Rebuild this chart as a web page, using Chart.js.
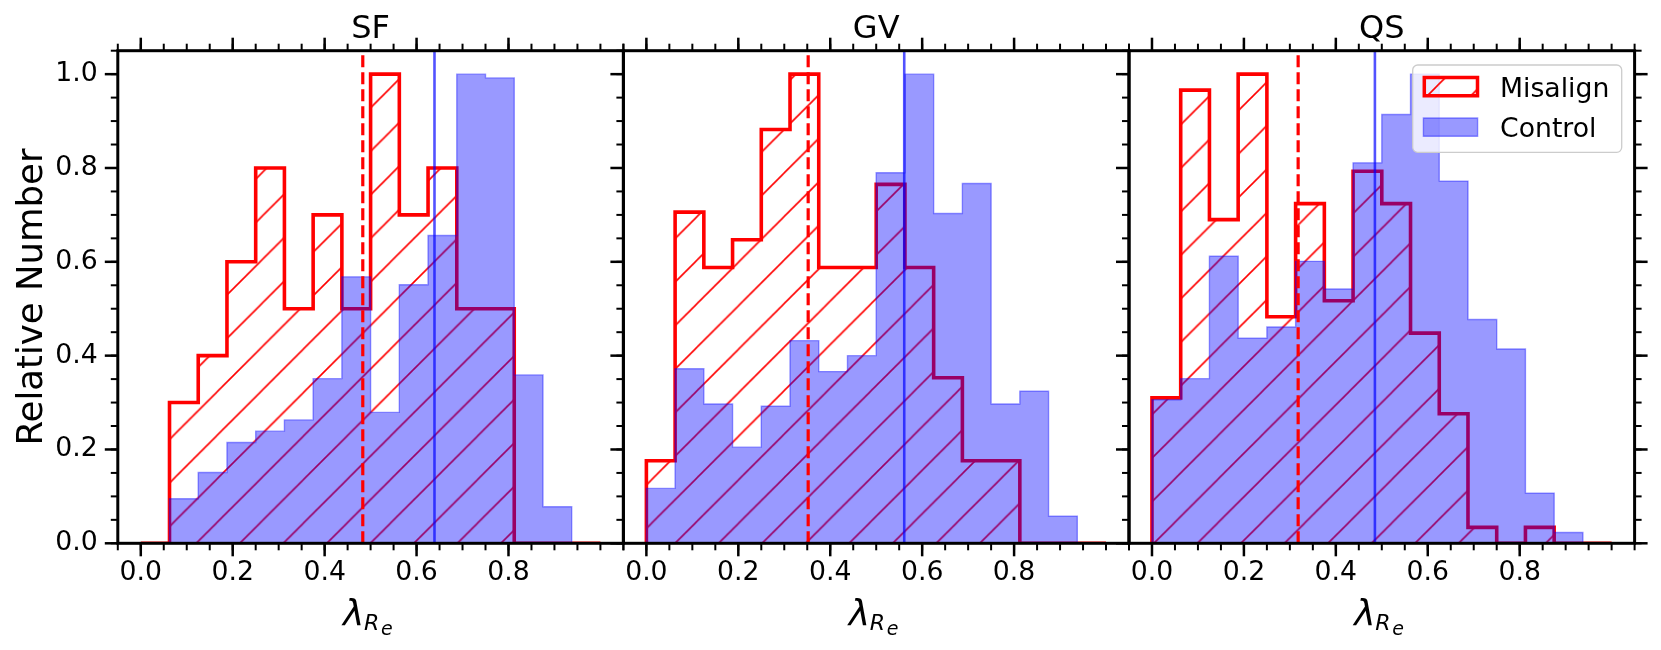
<!DOCTYPE html>
<html>
<head>
<meta charset="utf-8">
<script src="https://cdn.jsdelivr.net/npm/chart.js@4.4.1/dist/chart.umd.min.js"></script>
<style>
  html, body { margin: 0; padding: 0; background: #fff; }
  #wrap { position: relative; width: 1661px; height: 650px; }
  canvas { position: absolute; left: 0; top: 0; }
</style>
</head>
<body>
<div id="wrap">
  <canvas id="sf" width="1661" height="650"></canvas>
  <canvas id="gv" width="1661" height="650"></canvas>
  <canvas id="qs" width="1661" height="650"></canvas>
</div>
<script>
"use strict";

// 1: data
// bin edges of the lambda_Re histograms (16 bins between 0 and 1)
const binEdges = [0, 0.0625, 0.125, 0.1875, 0.25, 0.3125, 0.375, 0.4375, 0.5,
  0.5625, 0.625, 0.6875, 0.75, 0.8125, 0.875, 0.9375, 1.0];

// relative number per bin
const sfMisalign = [0, 0.3, 0.4, 0.6, 0.8, 0.5, 0.7, 0.5, 1.0, 0.7, 0.8, 0.5, 0.5, 0, 0, 0];
const sfControl = [0, 0.095, 0.151, 0.215, 0.239, 0.263, 0.351, 0.568, 0.279, 0.551, 0.656, 1.0, 0.992, 0.359, 0.078, 0];
const gvMisalign = [0.176, 0.706, 0.588, 0.647, 0.882, 1.0, 0.588, 0.588, 0.765, 0.588, 0.353, 0.176, 0.176, 0, 0, 0];
const gvControl = [0.117, 0.372, 0.297, 0.205, 0.292, 0.432, 0.366, 0.400, 0.790, 1.0, 0.703, 0.767, 0.297, 0.324, 0.058, 0];
const qsMisalign = [0.310, 0.966, 0.690, 1.0, 0.483, 0.724, 0.517, 0.793, 0.724, 0.448, 0.276, 0.034, 0, 0.034, 0, 0];
const qsControl = [0.306, 0.351, 0.612, 0.437, 0.461, 0.601, 0.542, 0.811, 0.914, 1.0, 0.772, 0.477, 0.414, 0.107, 0.023, 0];

// medians drawn as vertical lines (SF, GV, QS)
const misalignMedian = [0.483, 0.352, 0.318];
const controlMedian = [0.639, 0.561, 0.485];

const panelTitles = ["SF", "GV", "QS"];
const legendLabels = ["Misalign", "Control"];
const xTickValues = [0, 0.2, 0.4, 0.6, 0.8];
const yTickValues = [0, 0.2, 0.4, 0.6, 0.8, 1.0];

// 2: layout of the three panels (pixels)
const panelLeft = [117.8, 623.4, 1129.0];
const panelWidth = 505.6;
const plotTop = 50.7;
const plotBottom = 543.3;
const yAxisWidth = 100; // room for the y tick labels (labels are clipped to it)
const xAxisHeight = 60;
const FONT = '"DejaVu Sans", sans-serif';

// red "/" hatch, anchored to the page like matplotlib does
function makeHatch(ctx) {
  const T = 44;
  const tile = document.createElement("canvas");
  tile.width = T;
  tile.height = T;
  const g = tile.getContext("2d");
  g.strokeStyle = "red";
  g.lineWidth = 1.6;
  g.beginPath();
  g.moveTo(-2, T + 2); g.lineTo(T + 2, -2);
  g.moveTo(-2, 2); g.lineTo(2, -2);
  g.moveTo(T - 2, T + 2); g.lineTo(T + 2, T - 2);
  g.stroke();
  const p = ctx.createPattern(tile, "repeat");
  const s = 43.53 / T;
  p.setTransform(new DOMMatrix([s, 0, 0, s, 43.0, 0]));
  return p;
}

// histogram outline as step points: value i holds from edge i to edge i+1
function stepPoints(values) {
  const pts = [{ x: binEdges[0], y: 0 }];
  values.forEach((v, i) => pts.push({ x: binEdges[i], y: v }));
  pts.push({ x: binEdges[binEdges.length - 1], y: 0 });
  return pts;
}

// spines, minor/major ticks, titles, axis labels and legend
const frame = {
  id: "frame",
  afterDraw(chart, args, opts) {
    const { ctx, chartArea: a, scales: { x, y } } = chart;
    ctx.save();
    ctx.strokeStyle = "#000";
    ctx.lineCap = "butt";

    function tick(x1, y1, x2, y2, w) {
      ctx.lineWidth = w;
      ctx.beginPath();
      ctx.moveTo(x1, y1);
      ctx.lineTo(x2, y2);
      ctx.stroke();
    }
    const MAJ = 13, MIN = 7;
    // x ticks (top and bottom)
    for (let k = -1; k <= 21; k++) {
      const px = x.getPixelForValue(k * 0.05);
      tick(px, a.bottom, px, a.bottom + MIN, 2);
      tick(px, a.top, px, a.top - MIN, 2);
    }
    for (const v of xTickValues) {
      const px = x.getPixelForValue(v);
      tick(px, a.bottom, px, a.bottom + MAJ, 2.5);
      tick(px, a.top, px, a.top - MAJ, 2.5);
    }
    // y ticks (left always, right only on the last panel)
    for (let k = 0; k <= 21; k++) {
      const py = y.getPixelForValue(k * 0.05);
      tick(a.left, py, a.left - MIN, py, 2);
      if (opts.last) tick(a.right, py, a.right + MIN, py, 2);
    }
    for (const v of yTickValues) {
      const py = y.getPixelForValue(v);
      tick(a.left, py, a.left - MAJ, py, 2.5);
      if (opts.last) tick(a.right, py, a.right + MAJ, py, 2.5);
    }
    // spines
    ctx.lineWidth = 3;
    ctx.strokeRect(a.left, a.top, a.right - a.left, a.bottom - a.top);

    const cx = (a.left + a.right) / 2;
    ctx.fillStyle = "#000";
    ctx.textAlign = "center";
    ctx.textBaseline = "alphabetic";
    ctx.font = "32px " + FONT;
    ctx.fillText(opts.title, cx, 38.3);

    // x label: lambda_{R_e}
    ctx.textAlign = "left";
    ctx.font = "italic 36px " + FONT;
    ctx.fillText("λ", cx - 27.5, 625);
    ctx.font = "italic 22px " + FONT;
    ctx.fillText("R", cx - 6.5, 630);
    ctx.font = "italic 19px " + FONT;
    ctx.fillText("e", cx + 10.5, 635);

    if (opts.first) {
      ctx.save();
      ctx.translate(41.7, (a.top + a.bottom) / 2);
      ctx.rotate(-Math.PI / 2);
      ctx.textAlign = "center";
      ctx.font = "35.5px " + FONT;
      ctx.fillText("Relative Number", 0, 0);
      ctx.restore();
    }

    if (opts.last) {
      ctx.beginPath();
      ctx.roundRect(1412.7, 65, 209, 87.3, 5);
      ctx.fillStyle = "rgba(255,255,255,0.8)";
      ctx.fill();
      ctx.strokeStyle = "#cccccc";
      ctx.lineWidth = 1.3;
      ctx.stroke();

      ctx.beginPath();
      ctx.rect(1424.3, 77.6, 53.2, 18.2);
      ctx.fillStyle = opts.hatch;
      ctx.fill();
      ctx.strokeStyle = "red";
      ctx.lineWidth = 3.5;
      ctx.lineJoin = "miter";
      ctx.stroke();

      ctx.beginPath();
      ctx.rect(1423.4, 118, 54.2, 18.2);
      ctx.fillStyle = "rgba(0,0,255,0.4)";
      ctx.fill();
      ctx.strokeStyle = "rgba(0,0,255,0.4)";
      ctx.lineWidth = 1.4;
      ctx.stroke();

      ctx.fillStyle = "#000";
      ctx.textAlign = "left";
      ctx.font = "26.7px " + FONT;
      ctx.fillText(legendLabels[0], 1500, 97.3);
      ctx.fillText(legendLabels[1], 1500, 136.7);
    }
    ctx.restore();
  }
};

// 3: one chart per panel
function makePanel(i, canvasId, misalign, control) {
  const canvas = document.getElementById(canvasId);
  const hatch = makeHatch(canvas.getContext("2d"));
  const tickFont = { family: FONT, size: 26.7 };
  return new Chart(canvas, {
    type: "line",
    data: {
      datasets: [
        {
          label: "control median",
          data: [{ x: controlMedian[i], y: 0 }, { x: controlMedian[i], y: 1.05 }],
          borderColor: "rgba(0,0,255,0.68)",
          borderWidth: 2.6,
          pointRadius: 0,
          order: 1
        },
        {
          label: "misalign median",
          data: [{ x: misalignMedian[i], y: 0 }, { x: misalignMedian[i], y: 1.05 }],
          borderColor: "red",
          borderWidth: 3.2,
          borderDash: [12, 5],
          pointRadius: 0,
          order: 2
        },
        {
          label: legendLabels[1],
          data: stepPoints(control),
          stepped: "before",
          borderColor: "rgba(0,0,255,0.4)",
          borderWidth: 1.4,
          backgroundColor: "rgba(0,0,255,0.4)",
          fill: "origin",
          pointRadius: 0,
          order: 3
        },
        {
          label: legendLabels[0],
          data: stepPoints(misalign),
          stepped: "before",
          borderColor: "red",
          borderWidth: 3.6,
          borderJoinStyle: "miter",
          backgroundColor: hatch,
          fill: "origin",
          pointRadius: 0,
          order: 4
        }
      ]
    },
    options: {
      responsive: false,
      animation: false,
      events: [],
      layout: {
        padding: {
          left: panelLeft[i] - yAxisWidth,
          right: 1661 - panelLeft[i] - panelWidth,
          top: plotTop,
          bottom: 650 - plotBottom - xAxisHeight
        }
      },
      plugins: {
        legend: { display: false },
        tooltip: { enabled: false },
        frame: { title: panelTitles[i], first: i === 0, last: i === 2, hatch: hatch }
      },
      scales: {
        x: {
          type: "linear",
          min: -0.05,
          max: 1.05,
          grid: { display: false, drawTicks: false },
          border: { display: false },
          ticks: { font: tickFont, color: "#000", padding: 14, maxRotation: 0, callback: v => v.toFixed(1) },
          afterBuildTicks: s => { s.ticks = xTickValues.map(v => ({ value: v })); },
          afterFit: s => { s.height = xAxisHeight; }
        },
        y: {
          type: "linear",
          min: 0,
          max: 1.05,
          grid: { display: false, drawTicks: false },
          border: { display: false },
          ticks: { display: i === 0, font: tickFont, color: "#000", padding: 20, callback: v => v.toFixed(1) },
          afterBuildTicks: s => { s.ticks = yTickValues.map(v => ({ value: v })); },
          afterFit: s => { s.width = yAxisWidth; }
        }
      }
    },
    plugins: [frame]
  });
}

makePanel(0, "sf", sfMisalign, sfControl);
makePanel(1, "gv", gvMisalign, gvControl);
makePanel(2, "qs", qsMisalign, qsControl);
</script>
</body>
</html>
